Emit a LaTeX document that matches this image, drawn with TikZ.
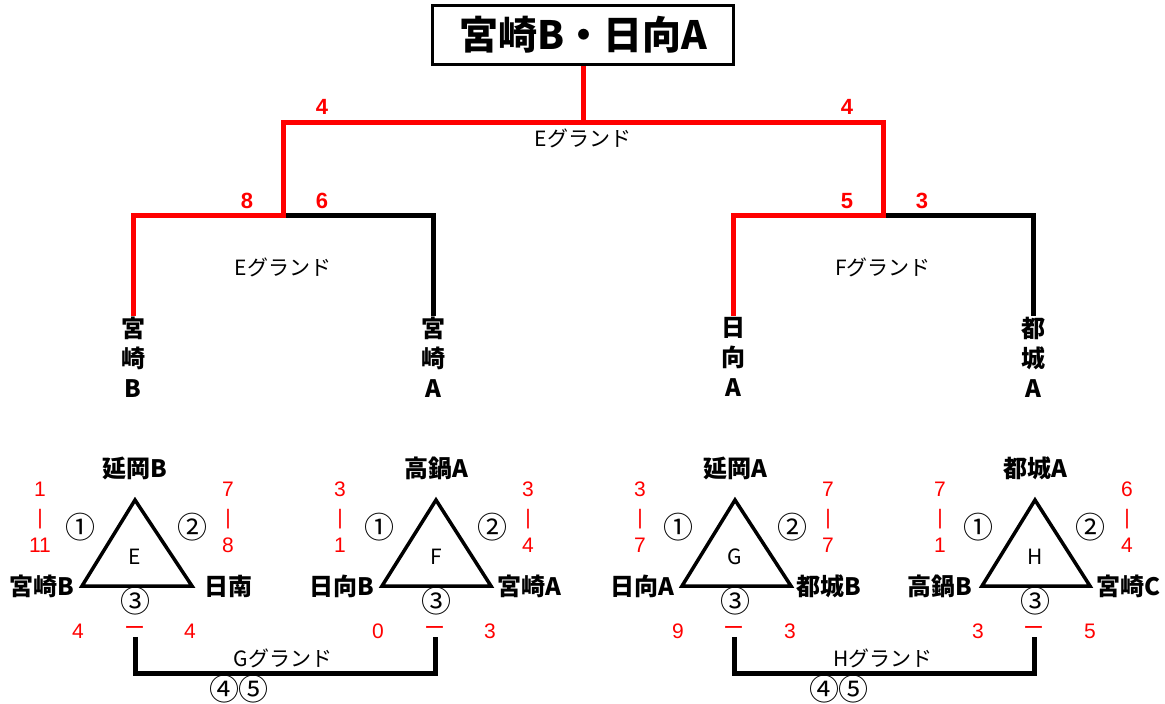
\documentclass[tikz,border=0pt]{standalone}
\usepackage{fontspec}
\setmainfont{Noto Sans CJK JP}
\newfontfamily\numfont{Liberation Sans}
\usetikzlibrary{positioning}

\begin{document}
\begin{tikzpicture}[x=1pt, y=-1pt,
		win/.style={draw=red, line width=5pt},
		lose/.style={draw=black, line width=5pt},
		tri/.style={draw, line width=3.5pt, line join=miter},
		team/.style={inner sep=1pt, font=\bfseries\fontsize{24}{25}\selectfont},
		vteam/.style={inner sep=1pt, align=center, font=\bfseries\fontsize{24}{30}\selectfont},
		wscore/.style={text=red, font=\numfont\bfseries\fontsize{22}{24}\selectfont},
		score/.style={text=red, align=center, font=\numfont\fontsize{21}{28}\selectfont},
		versus/.style={text=red, inner sep=1pt, font=\fontsize{21}{24}\selectfont},
		ground/.style={font=\fontsize{21}{24}\selectfont},
		order/.style={font=\fontsize{30}{30}\selectfont},
		court/.style={font=\fontsize{21}{22}\selectfont}]
		\useasboundingbox (0,0) rectangle (1165,704);

		% Nodes
		\node (title) [draw, rectangle, line width=3pt, minimum width=301, minimum height=59,
			font=\bfseries\fontsize{39}{40}\selectfont] at (583,35) {宮崎B・日向A};
		\node (miyazakiB) [vteam, anchor=north] at (133,316) {宮\\崎\\B};
		\node (miyazakiA) [vteam, anchor=north] at (433,316) {宮\\崎\\A};
		\node (hyugaA) [vteam, anchor=north] at (733,316) {日\\向\\A};
		\node (miyakonojoA) [vteam, anchor=north] at (1033,316) {都\\城\\A};

		\coordinate (final) at (583,122);
		\coordinate (semiL) at (283,122);
		\coordinate (semiR) at (883,122);
		\coordinate (joinL) at (283,215);
		\coordinate (joinR) at (883,215);
		\coordinate (cornerB) at (133,215);
		\coordinate (cornerA) at (433,215);
		\coordinate (cornerH) at (733,215);
		\coordinate (cornerM) at (1033,215);

		% Tournament lines
		\draw[lose] (joinL) -- (cornerA) -- (miyazakiA);
		\draw[lose] (joinR) -- (cornerM) -- (miyakonojoA);
		\draw[win] (title) -- (final);
		\draw[win] (miyazakiB) -- (cornerB) -- (joinL) -- (semiL) -- (semiR) -- (joinR) -- (cornerH) -- (hyugaA);

		\node (finalL) [wscore] at (322,107) {4};
		\node (finalR) [wscore] at (847,107) {4};
		\node (groundFinal) [ground] at (583,138) {Eグランド};
		\node (semiB) [wscore] at (247,201) {8};
		\node (semiA) [wscore] at (322,201) {6};
		\node (semiH) [wscore] at (847,201) {5};
		\node (semiM) [wscore] at (922,201) {3};
		\node (groundL) [ground] at (283,267) {Eグランド};
		\node (groundR) [ground] at (883,267) {Fグランド};

		% League E
		\coordinate (Eapex) at (135,500);
		\coordinate (Eleft) at (82,586);
		\coordinate (Eright) at (192,586);
		\draw[tri] (Eapex) -- (Eleft) -- (Eright) -- cycle;
		\node (Ecourt) [court] at (135,557) {E};
		\node (EnobeokaB) [team] at (135,468) {延岡B};
		\node (EmiyazakiB) [team] at (42,586) {宮崎B};
		\node (Enichinan) [team] at (228,586) {日南};
		\node (Eone) [order] at (80,527) {①};
		\node (Etwo) [order] at (192,527) {②};
		\node (Ethree) [order] at (135,601) {③};
		\node (EscoreL) [score] at (40,517) {1\\|\\11};
		\node (EscoreR) [score] at (228,517) {7\\|\\8};
		\node (EbottomL) [score] at (78,631) {4};
		\node (Evs) [versus] at (135,631) {ー};
		\node (EbottomR) [score] at (190,631) {4};

		% League F
		\coordinate (Fapex) at (436,500);
		\coordinate (Fleft) at (382,586);
		\coordinate (Fright) at (491,586);
		\draw[tri] (Fapex) -- (Fleft) -- (Fright) -- cycle;
		\node (Fcourt) [court] at (436,557) {F};
		\node (FtakanabeA) [team] at (436,468) {高鍋A};
		\node (FhyugaB) [team] at (342,586) {日向B};
		\node (FmiyazakiA) [team] at (529,586) {宮崎A};
		\node (Fone) [order] at (379,527) {①};
		\node (Ftwo) [order] at (492,527) {②};
		\node (Fthree) [order] at (436,601) {③};
		\node (FscoreL) [score] at (340,517) {3\\|\\1};
		\node (FscoreR) [score] at (528,517) {3\\|\\4};
		\node (FbottomL) [score] at (378,631) {0};
		\node (Fvs) [versus] at (435,631) {ー};
		\node (FbottomR) [score] at (490,631) {3};

		% League G
		\coordinate (Gapex) at (735,500);
		\coordinate (Gleft) at (682,586);
		\coordinate (Gright) at (791,586);
		\draw[tri] (Gapex) -- (Gleft) -- (Gright) -- cycle;
		\node (Gcourt) [court] at (735,557) {G};
		\node (GnobeokaA) [team] at (735,468) {延岡A};
		\node (GhyugaA) [team] at (642,586) {日向A};
		\node (GmiyakonojoB) [team] at (829,586) {都城B};
		\node (Gone) [order] at (678,527) {①};
		\node (Gtwo) [order] at (792,527) {②};
		\node (Gthree) [order] at (735,601) {③};
		\node (GscoreL) [score] at (640,517) {3\\|\\7};
		\node (GscoreR) [score] at (828,517) {7\\|\\7};
		\node (GbottomL) [score] at (678,631) {9};
		\node (Gvs) [versus] at (734,631) {ー};
		\node (GbottomR) [score] at (790,631) {3};

		% League H
		\coordinate (Hapex) at (1035,500);
		\coordinate (Hleft) at (982,586);
		\coordinate (Hright) at (1090,586);
		\draw[tri] (Hapex) -- (Hleft) -- (Hright) -- cycle;
		\node (Hcourt) [court] at (1035,557) {H};
		\node (HmiyakonojoA) [team] at (1035,468) {都城A};
		\node (HtakanabeB) [team] at (940,586) {高鍋B};
		\node (HmiyazakiC) [team] at (1128,586) {宮崎C};
		\node (Hone) [order] at (978,527) {①};
		\node (Htwo) [order] at (1090,527) {②};
		\node (Hthree) [order] at (1035,601) {③};
		\node (HscoreL) [score] at (940,517) {7\\|\\1};
		\node (HscoreR) [score] at (1127,517) {6\\|\\4};
		\node (HbottomL) [score] at (978,631) {3};
		\node (Hvs) [versus] at (1034,631) {ー};
		\node (HbottomR) [score] at (1090,631) {5};

		% Crossover brackets
		\coordinate (crossEF) at (284,673);
		\coordinate (crossGH) at (884,673);
		\draw[lose] (Evs.south) |- (crossEF) -| (Fvs.south);
		\draw[lose] (Gvs.south) |- (crossGH) -| (Hvs.south);
		\node (groundG) [ground] at (283,658) {Gグランド};
		\node (groundH) [ground] at (883,658) {Hグランド};
		\node (orderG) [order] at (239,689) {④\kern-1pt⑤};
		\node (orderH) [order] at (839,689) {④\kern-1pt⑤};

	\end{tikzpicture}
\end{document}
